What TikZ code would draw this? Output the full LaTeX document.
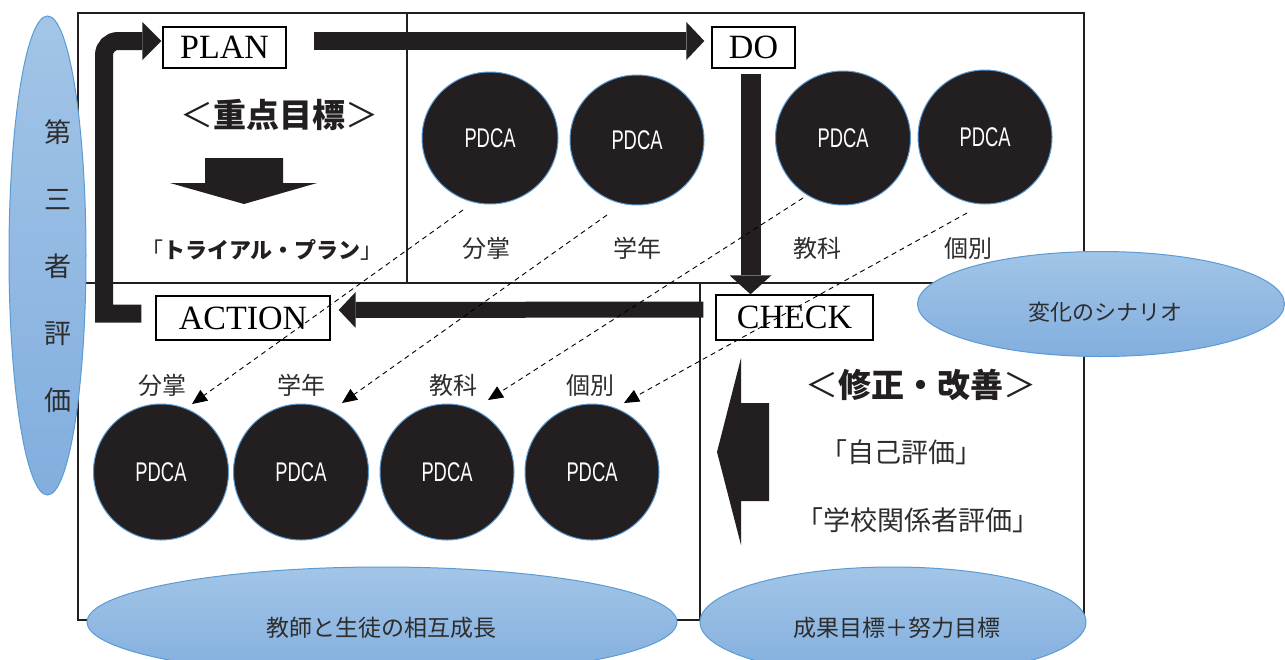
\documentclass[tikz,border=0pt]{standalone}
\usepackage{fontspec}
\setmainfont{Liberation Serif}
\newfontfamily\jp{Noto Sans CJK JP}
\newfontfamily\pdcafont{Liberation Sans}[FakeStretch=0.68]
\usetikzlibrary{arrows.meta,calc,shapes.geometric}
\definecolor{ink}{RGB}{35,31,32}
\definecolor{blueA}{RGB}{162,197,231}
\definecolor{blueB}{RGB}{130,174,222}
\definecolor{blueline}{RGB}{91,155,213}
\definecolor{txt}{RGB}{45,45,45}
\begin{document}
\begin{tikzpicture}[x=1pt,y=-1pt,
  frame/.style={draw=ink,line width=1.6pt},
  stagebox/.style={draw=black,line width=1.4pt,fill=white,inner sep=0pt,
     font=\fontsize{34}{36}\selectfont},
  pdca/.style={ellipse,fill=ink,draw=blueline,line width=1pt,inner sep=0pt,
     text=white,font=\pdcafont\fontsize{27}{27}\selectfont},
  blueell/.style={ellipse,draw=blueline,line width=1pt,top color=blueA,bottom color=blueB,inner sep=0pt},
  lbl/.style={text=txt,font=\jp\fontsize{24}{26}\selectfont,inner sep=0pt},
  elltext/.style={text=txt,font=\jp\fontsize{22}{24}\selectfont,inner sep=0pt},
  bigarrow/.style={draw=ink,line width=#1},
  dasharrow/.style={draw=black,line width=0.9pt,dash pattern=on 5pt off 4pt,
     -{Triangle[length=15pt,width=13pt]}},
]
\useasboundingbox (0,0) rectangle (1285,659);
\fill[white] (0,0) rectangle (1285,659);
\clip (0,0) rectangle (1285,659);

% frame
\draw[frame] (78,13) rectangle (1084,620);
\draw[frame] (78,283) -- (1084,283);
\draw[frame] (407,13) -- (407,283);
\draw[frame] (700,283) -- (700,620);

% stage boxes
\node[stagebox,minimum width=123pt,minimum height=41pt] (PLAN) at (224.5,47.5) {PLAN};
\node[stagebox,minimum width=83pt,minimum height=41pt] (DO) at (753.5,47.5) {DO};
\node[stagebox,minimum width=174pt,minimum height=44pt] (ACTION) at (243,318) {ACTION};
\node[stagebox,minimum width=157pt,minimum height=45pt] (CHECK) at (794.5,317.5) {CHECK};

% PDCA circles top
\node[pdca,minimum width=136pt,minimum height=132pt] (t1) at (490,138) {PDCA};
\node[pdca,minimum width=134pt,minimum height=130pt] (t2) at (637,140) {PDCA};
\node[pdca,minimum width=135pt,minimum height=134pt] (t3) at (843,138) {PDCA};
\node[pdca,minimum width=134pt,minimum height=134pt] (t4) at (985,137) {PDCA};
% PDCA circles bottom
\node[pdca,minimum width=135pt,minimum height=136pt] (b1) at (161,472) {PDCA};
\node[pdca,minimum width=135pt,minimum height=136pt] (b2) at (301,472) {PDCA};
\node[pdca,minimum width=134pt,minimum height=136pt] (b3) at (447,472) {PDCA};
\node[pdca,minimum width=134pt,minimum height=136pt] (b4) at (592,472) {PDCA};

% labels
\node[lbl] (lt1) at (486,248) {分掌};
\node[lbl] (lt2) at (637,248) {学年};
\node[lbl] (lt3) at (817,248) {教科};
\node[lbl] (lt4) at (968,248) {個別};
\node[lbl] (lb1) at (162,385) {分掌};
\node[lbl] (lb2) at (301,385) {学年};
\node[lbl] (lb3) at (453,385) {教科};
\node[lbl] (lb4) at (590,385) {個別};

% PLAN area texts
\node[inner sep=0pt,text=ink,font=\jp\fontsize{33}{36}\selectfont] (goal) at (279,115) {＜\textbf{重点目標}＞};
\node[inner sep=0pt,text=ink,font=\jp\fontsize{22}{24}\selectfont] (trial) at (262,250) {「\textbf{トライアル・プラン}」};
\fill[ink] (205,158) -- (283,158) -- (283,183) -- (317,183) -- (244,204) -- (170,183) -- (205,183) -- cycle;

% CHECK area texts
\node[inner sep=0pt,text=ink,font=\jp\fontsize{33}{36}\selectfont] (fix) at (921,385) {＜\textbf{修正・改善}＞};
\node[inner sep=0pt,text=txt,font=\jp\fontsize{27}{30}\selectfont] (self) at (901,452) {「自己評価」};
\node[inner sep=0pt,text=txt,font=\jp\fontsize{27}{30}\selectfont] (school) at (918,520) {「学校関係者評価」};
\fill[ink] (741,358) -- (741,403) -- (769,403) -- (769,501) -- (741,501) -- (741,545) -- (717,452) -- cycle;

% big arrows
\draw[bigarrow=18pt,-{Triangle[length=18pt,width=38pt,line width=0pt]}]
  ($(PLAN.east)+(27,-6.5)$) -- ($(DO.west)+(-7,-6.5)$);
\coordinate (dostart) at ($(DO.south)+(-3,5)$);
\draw[bigarrow=20pt,-{Triangle[length=19pt,width=42pt,line width=0pt]}]
  (dostart) -- (dostart |- CHECK.north);
\draw[bigarrow=16pt,-{Triangle[length=17pt,width=36pt,line width=0pt]}]
  ($(CHECK.west)+(-12,-8)$) -- ($(ACTION.east)+(8,-8)$);
\coordinate (bendlow) at (104,313.5);
\coordinate (bendtop) at (104,41);
\draw[bigarrow=18pt,-{Triangle[length=19pt,width=38pt,line width=0pt]}]
  ($(ACTION.west)+(-14,-4.5)$) -- (bendlow) [rounded corners=14pt] -- (bendtop) -- ($(PLAN.west)+(-1,-6.5)$);

% dashed arrows
\draw[dasharrow] ($(t1.center)+(-27,72)$) -- ($(b1.center)+(31,-68)$);
\draw[dasharrow] ($(t2.center)+(-30,75)$) -- ($(b2.center)+(41,-69)$);
\draw[dasharrow] ($(t3.center)+(-40,60)$) -- ($(b3.center)+(41,-72)$);
\draw[dasharrow] ($(t4.center)+(-18,76)$) -- ($(b4.center)+(32,-69)$);

% blue ellipses
\node[blueell,minimum width=77pt,minimum height=479pt] (third) at (47.5,255.5) {};
\node[inner sep=0pt,text=txt,font=\jp\fontsize{27}{67}\selectfont,align=center] (thirdtxt) at (58,266) {第\\三\\者\\評\\価};
\node[blueell,minimum width=367pt,minimum height=105pt] (scen) at (1101,304) {};
\node[elltext] (scentxt) at (1105,312) {変化のシナリオ};
\node[blueell,minimum width=590pt,minimum height=110pt] (grow) at (382,622) {};
\node[elltext,font=\jp\fontsize{23}{24}\selectfont] (growtxt) at (381,628) {教師と生徒の相互成長};
\node[blueell,minimum width=386pt,minimum height=110pt] (goalell) at (893,622) {};
\node[elltext,font=\jp\fontsize{23}{24}\selectfont] (goalelltxt) at (897,628) {成果目標＋努力目標};
\end{tikzpicture}
\end{document}
